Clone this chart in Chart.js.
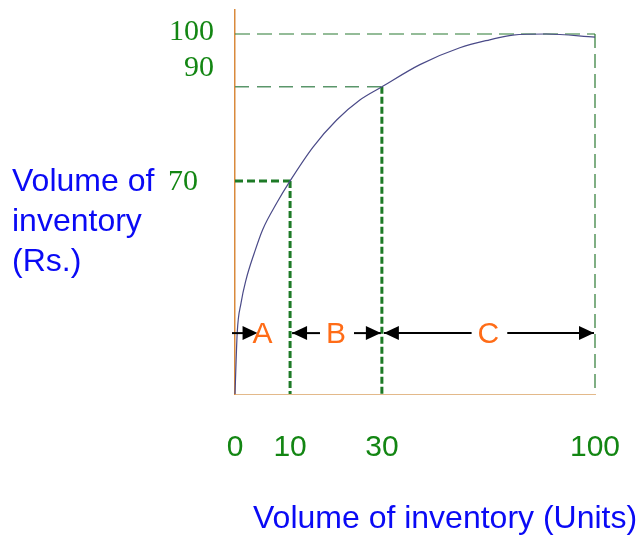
<!DOCTYPE html>
<html>
<head>
<meta charset="utf-8">
<script src="https://cdn.jsdelivr.net/npm/chart.js@4.4.1/dist/chart.umd.min.js"></script>
<style>
  html, body { margin: 0; padding: 0; background: #fff; }
  canvas { display: block; }
</style>
</head>
<body>
<canvas id="chart" width="639" height="535"></canvas>
<script>
// cumulative value curve: % of units (x) against % of value (y)
const curveX = [0, 0.4, 1.1, 2.0, 3.5, 5.0, 7.6, 10, 15, 20.2, 25.2, 30, 42.5, 55.6, 65.4, 73, 84, 100];
const curveY = [0, 20, 29.9, 37.5, 46.3, 53.9, 62.8, 70, 77.2, 83, 87.2, 90, 94.2, 97.4, 98.9, 99.8, 100, 99.4];

const xTicks = [0, 10, 30, 100];
const yTicks = [70, 90, 100];

// where each class ends on the curve
const cutUnits = [10, 30, 100];
const cutValue = [70, 90, 100];

const classNames = ["A", "B", "C"];
const classBounds = [0, 10, 30, 100];
const arrowLevel = 20;

// the axes are not to scale, so each one is split into stretches
const breaks = {
    x: { stops: [0, 10, 30, 100], fracs: [0, 0.153, 0.408, 1] },
    y: { stops: [0, 70, 90, 100, 104.5], fracs: [0, 0.555, 0.8, 0.9375, 1] }
};

class BreakScale extends Chart.LinearScale {
    decimalFor(value) {
        const { stops, fracs } = breaks[this.id];
        if (value <= stops[0]) return fracs[0];
        for (let i = 1; i < stops.length; i++) {
            if (value <= stops[i] || i === stops.length - 1) {
                const t = (value - stops[i - 1]) / (stops[i] - stops[i - 1]);
                return fracs[i - 1] + t * (fracs[i] - fracs[i - 1]);
            }
        }
    }
    getPixelForValue(value) {
        return this.getPixelForDecimal(this.decimalFor(value));
    }
    getValueForPixel(pixel) {
        const { stops, fracs } = breaks[this.id];
        const d = this.getDecimalForPixel(pixel);
        for (let i = 1; i < fracs.length; i++) {
            if (d <= fracs[i]) {
                const t = (d - fracs[i - 1]) / (fracs[i] - fracs[i - 1]);
                return stops[i - 1] + t * (stops[i] - stops[i - 1]);
            }
        }
        return stops[stops.length - 1];
    }
}
BreakScale.id = "breaks";
BreakScale.defaults = Chart.LinearScale.defaults;
Chart.register(BreakScale);

const guideH = [
    { color: "#1d7a26", width: 3, dash: [8, 4] },
    { color: "#5a966a", width: 1.5, dash: [14, 8] },
    { color: "#2b7a33", width: 1.2, dash: [15, 7] }
];
const guideV = [
    { color: "#1d7a26", width: 3, dash: [7, 3] },
    { color: "#1d7a26", width: 3, dash: [7, 3] },
    { color: "#2b7a33", width: 1.2, dash: [14, 6] }
];

const datasets = [{
    data: curveX.map((x, i) => ({ x: x, y: curveY[i] })),
    borderColor: "#4a4a88",
    borderWidth: 1.2,
    pointRadius: 0,
    cubicInterpolationMode: "monotone",
    fill: false,
    clip: false
}];

cutUnits.forEach((u, i) => {
    const v = cutValue[i];
    datasets.push({
        data: [{ x: 0, y: v }, { x: u, y: v }],
        borderColor: guideH[i].color,
        borderWidth: guideH[i].width,
        borderDash: guideH[i].dash,
        pointRadius: 0,
        clip: false
    });
    datasets.push({
        data: [{ x: u, y: v }, { x: u, y: 0 }],
        borderColor: guideV[i].color,
        borderWidth: guideV[i].width,
        borderDash: guideV[i].dash,
        pointRadius: 0,
        clip: false
    });
});

function head(ctx, tip, y, dir) {
    ctx.beginPath();
    ctx.moveTo(tip, y);
    ctx.lineTo(tip - 15 * dir, y - 7);
    ctx.lineTo(tip - 15 * dir, y + 7);
    ctx.closePath();
    ctx.fill();
}

function seg(ctx, a, b, y) {
    ctx.beginPath();
    ctx.moveTo(a, y);
    ctx.lineTo(b, y);
    ctx.stroke();
}

// A / B / C bands with arrows
const bandsPlugin = {
    id: "bands",
    afterDatasetsDraw(chart) {
        const { ctx, scales: { x, y } } = chart;
        const yy = y.getPixelForValue(arrowLevel);
        ctx.save();
        ctx.strokeStyle = "#000";
        ctx.lineWidth = 2;
        ctx.font = "30px 'Liberation Sans', Arial, sans-serif";
        classNames.forEach((name, i) => {
            const l = x.getPixelForValue(classBounds[i]);
            const r = x.getPixelForValue(classBounds[i + 1]);
            const mid = (l + r) / 2;
            const w = ctx.measureText(name).width;
            ctx.fillStyle = "#000";
            if (r - l < 80) {
                seg(ctx, l - 3, mid - 18, yy);
                head(ctx, mid - 5, yy, 1);
            } else {
                seg(ctx, l + 2, mid - w / 2 - 6, yy);
                head(ctx, l + 2, yy, -1);
                seg(ctx, mid + w / 2 + 8, r - 1, yy);
                head(ctx, r - 1, yy, 1);
            }
            ctx.fillStyle = "#ff6c17";
            ctx.textAlign = "center";
            ctx.textBaseline = "middle";
            ctx.fillText(name, mid, yy + 2);
        });
        ctx.restore();
    }
};

// y labels and the two axis titles
const yLabelShift = { 100: [0, -2], 90: [0, -19], 70: [-16, 1] };
const labelsPlugin = {
    id: "labels",
    afterDraw(chart) {
        const { ctx, chartArea, scales: { y } } = chart;
        ctx.save();
        ctx.font = "30px 'Liberation Serif', 'Times New Roman', serif";
        ctx.fillStyle = "#138613";
        ctx.textAlign = "right";
        ctx.textBaseline = "middle";
        yTicks.forEach(v => {
            const s = yLabelShift[v] || [0, 0];
            ctx.fillText(String(v), chartArea.left - 21 + s[0], y.getPixelForValue(v) + s[1]);
        });

        ctx.font = "32px 'Liberation Sans', Arial, sans-serif";
        ctx.fillStyle = "#0a0af5";
        ctx.textAlign = "left";
        ["Volume of", "inventory", "(Rs.)"].forEach((t, i) => {
            ctx.fillText(t, 12, 182 + i * 40);
        });
        ctx.fillText("Volume of inventory (Units)", 253, 519);
        ctx.restore();
    }
};

new Chart(document.getElementById("chart"), {
    type: "line",
    data: { datasets: datasets },
    options: {
        responsive: false,
        animation: false,
        layout: { padding: { left: 235, right: 44, top: 10, bottom: 66 } },
        plugins: { legend: { display: false }, tooltip: { enabled: false } },
        scales: {
            x: {
                type: "breaks",
                min: 0,
                max: 100,
                afterBuildTicks: axis => { axis.ticks = xTicks.map(v => ({ value: v })); },
                // invisible tick marks push the labels down
                grid: { display: true, drawOnChartArea: false, drawTicks: true, tickLength: 33, tickColor: "rgba(0,0,0,0)" },
                border: { display: true, color: "#e3b98a", width: 1 },
                ticks: {
                    padding: 3,
                    color: "#138613",
                    font: { family: "'Liberation Sans', Arial, sans-serif", size: 30 }
                }
            },
            y: {
                type: "breaks",
                min: 0,
                max: 104.5,
                grid: { display: false, drawTicks: false },
                border: { display: true, color: "#d98a3c", width: 1.5 },
                ticks: { display: false }
            }
        }
    },
    plugins: [bandsPlugin, labelsPlugin]
});
</script>
</body>
</html>
